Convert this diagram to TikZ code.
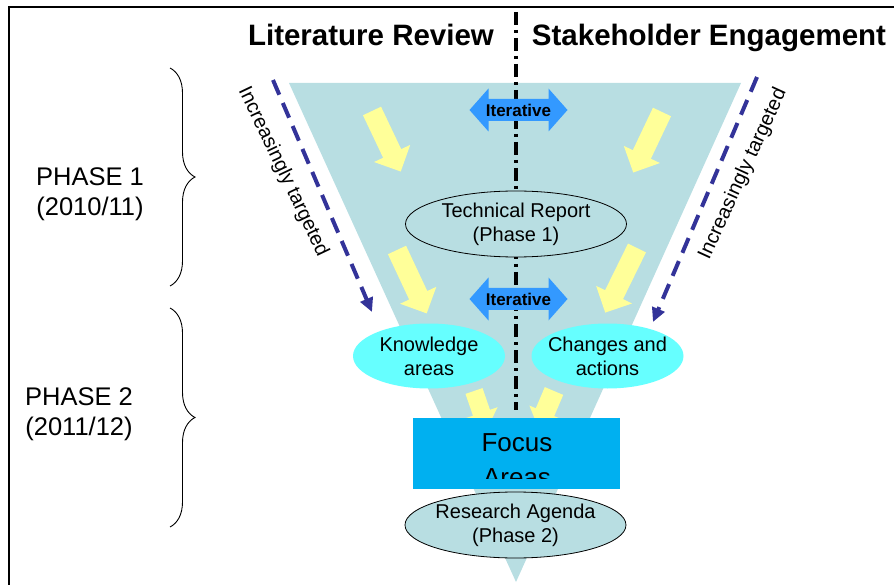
\documentclass[tikz,border=0pt]{standalone}
\usepackage{fontspec}
\setmainfont{Liberation Sans}
\usetikzlibrary{shapes.geometric,arrows.meta,decorations.pathreplacing}

\definecolor{funnelfill}{RGB}{184,222,226}
\definecolor{arrowyellow}{RGB}{255,255,153}
\definecolor{targetblue}{RGB}{51,51,153}
\definecolor{iterblue}{RGB}{51,153,255}
\definecolor{areacyan}{RGB}{102,255,255}
\definecolor{focusblue}{RGB}{0,176,240}

\tikzset{
  yellowarrow/.style={fill=arrowyellow,draw=none},
  targetline/.style={draw=targetblue,line width=4pt,dash pattern=on 16pt off 9pt,
    -{Triangle[length=14pt,width=13pt]}},
  phasebrace/.style={draw=black,line width=0.9pt,decorate,
    decoration={brace,amplitude=25pt}},
  ovalgrey/.style={ellipse,draw=black,line width=0.8pt,fill=funnelfill,
    inner xsep=-20pt,minimum width=221,minimum height=66,align=center,
    font=\fontsize{20}{24}\selectfont},
  ovalcyan/.style={ellipse,draw=none,fill=areacyan,inner xsep=-20pt,
    minimum width=152,minimum height=65,align=center,
    font=\fontsize{20}{24}\selectfont},
  headtext/.style={anchor=base,font=\fontsize{29.5}{35}\selectfont\bfseries},
  phasetext/.style={anchor=north,align=center,font=\fontsize{25.5}{30}\selectfont},
  targettext/.style={font=\fontsize{20}{24}\selectfont}
}

% block arrow: start, angle, length, half shaft, half head
\newcommand{\blockarrow}[5]{%
  \path[yellowarrow,shift={(#1)},rotate=#2] (0,-#4) -- ({#3-#5},-#4) --
    ({#3-#5},-#5) -- (#3,0) -- ({#3-#5},#5) -- ({#3-#5},#4) -- (0,#4) -- cycle;}

% double arrow with text
\newcommand{\iterarrow}[2]{%
  \path[fill=iterblue,shift={(#1)}] (-49,0) -- (-30,-21.5) -- (-30,-11) --
    (30,-11) -- (30,-21.5) -- (49,0) -- (30,21.5) -- (30,11) -- (-30,11) --
    (-30,21.5) -- cycle;
  \node[font=\fontsize{17}{20}\selectfont\bfseries] (#2) at (#1) {Iterative};}

\begin{document}
\begin{tikzpicture}[y=1pt, x=1pt, yscale=-1, inner sep=0pt, outer sep=0pt]
  \useasboundingbox (0,0) rectangle (894,585);

  % frame
  \path[draw=black,line width=2pt] (9,600) -- (9,7) -- (910,7);

  % funnel
  \path[fill=funnelfill] (289,83) -- (741,83) -- (516,582) -- cycle;

  % divider
  \path[draw=black,line width=3.5pt,dash pattern=on 13pt off 5pt on 3pt off 5pt]
    (516,12) -- (516,410);

  % headers
  \node[headtext] (textLitReview) at (371,46) {Literature Review};
  \node[headtext] (textStakeholder) at (709,46) {Stakeholder Engagement};

  % phases
  \path[phasebrace] (170,68) -- (170,286);
  \path[phasebrace] (170,308) -- (170,527);
  \node[phasetext] (textPhaseA) at (90,168) {PHASE 1\\(2010/11)};
  \node[phasetext] (textPhaseB) at (79,388) {PHASE 2\\(2011/12)};

  % yellow arrows
  \blockarrow{372,111}{64.6}{67}{10}{20}
  \blockarrow{662,112}{115.4}{67}{10}{20}
  \blockarrow{397,250}{64.9}{70}{10}{20}
  \blockarrow{637,248}{116.2}{72}{10}{20}
  \blockarrow{474,391}{71}{40}{9}{17}
  \blockarrow{554,391}{113}{40}{10}{17}

  % increasingly targeted
  \coordinate (targetStartL) at (273,80);
  \coordinate (targetEndL) at (372,312);
  \coordinate (targetStartR) at (757,77);
  \coordinate (targetEndR) at (653,322);
  \path[targetline] (targetStartL) -- (targetEndL);
  \path[targetline] (targetStartR) -- (targetEndR);
  \node[targettext,rotate=-64.5] (textTargetL) at (283,172) {Increasingly targeted};
  \node[targettext,rotate=65.4] (textTargetR) at (743,174) {Increasingly targeted};

  % iterative
  \iterarrow{518.5,110}{iterTop}
  \iterarrow{518.5,299}{iterBottom}

  % outputs
  \node[ovalgrey] (techReport) at (516,224) {Technical Report\\(Phase 1)};
  \node[ovalcyan] (knowledge) at (429,356) {Knowledge\\areas};
  \node[ovalcyan] (changes) at (607.5,356) {Changes and\\actions};

  \path[fill=focusblue] (413,418) rectangle (620,489);
  \begin{scope}
    \clip (413,418) rectangle (620,478);
    \node[anchor=north,align=center,font=\fontsize{26}{35}\selectfont]
      (focus) at (517,434) {Focus\\Areas};
  \end{scope}

  \node[ovalgrey] (agenda) at (515.5,525) {Research Agenda\\(Phase 2)};
\end{tikzpicture}
\end{document}
